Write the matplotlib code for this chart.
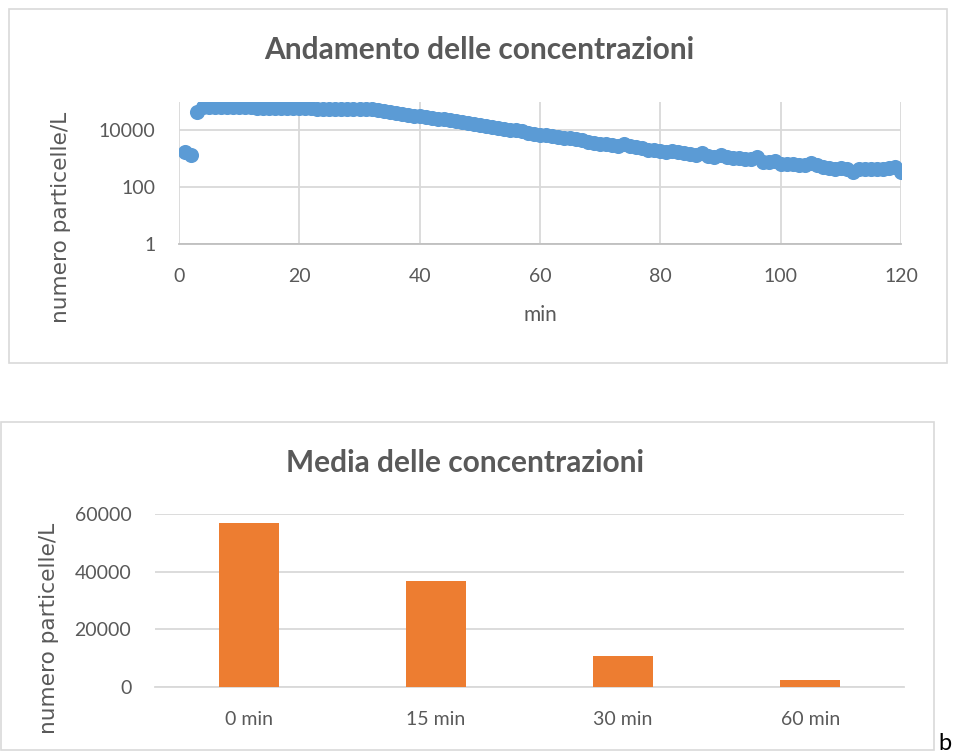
import matplotlib
matplotlib.use("Agg")
import matplotlib.pyplot as plt
from matplotlib.patches import Rectangle
import numpy as np

# ---------------- data ----------------
minutes = list(range(1, 121))
conc = [
    1800, 1400, 46000, 68000, 67000, 67000, 68000, 67000, 66000, 66000,
    65000, 65000, 64000, 64000, 63000, 63000, 63000, 62000, 61000, 61000,
    60000, 60000, 59000, 59000, 58000, 58000, 57000, 57000, 56000, 56000,
    55000, 55000, 54000, 50000, 46000, 42000, 38500, 35500, 33000, 31000,
    29000, 27500, 26000, 24500, 23000, 21500, 20000, 18500, 17000, 15500,
    14500, 13500, 12500, 11500, 10500, 10000, 9200, 8400, 7600, 7000,
    6800, 6300, 5900, 5500, 5200, 4900, 4600, 4000, 3700, 3400,
    3300, 3100, 2900, 3300, 2800, 2600, 2400, 2100, 2000, 1950,
    1800, 1900, 1750, 1550, 1450, 1350, 1600, 1250, 1200, 1400,
    1150, 1050, 1050, 1000, 950, 1200, 800, 750, 850, 650,
    640, 630, 620, 600, 720, 600, 500, 470, 450, 460,
    430, 330, 430, 440, 420, 430, 440, 460, 520, 330,
]
top_xticks = [0, 20, 40, 60, 80, 100, 120]
top_yticks = [1, 100, 10000]
top_ytick_labels = ["1", "100", "10000"]

bar_categories = ["0 min", "15 min", "30 min", "60 min"]
bar_values = [56800, 36600, 10900, 2500]
bar_yticks = [0, 20000, 40000, 60000]

top_title = "Andamento delle concentrazioni"
bottom_title = "Media delle concentrazioni"
ylabel = "numero particelle/L"
xlabel = "min"

# ---------------- style ----------------
W, H = 955, 753
BLUE = "#5B9BD5"
ORANGE = "#ED7D31"
TXT = "#595959"
GRID = "#D9D9D9"
AXIS = "#BFBFBF"
FONT = "Lato"

fig = plt.figure(figsize=(W / 100, H / 100), dpi=100)
fig.patch.set_facecolor("white")


def px_axes(x0, y0, x1, y1):
    return fig.add_axes([x0 / W, 1 - y1 / H, (x1 - x0) / W, (y1 - y0) / H])


def fig_text(x, y, s, width=None, **kw):
    t = fig.text(x / W, 1 - y / H, s, **kw)
    if width is not None:
        r = fig.canvas.get_renderer()
        for _ in range(2):
            w = t.get_window_extent(r).width
            t.set_fontsize(t.get_fontsize() * width / w)
    return t


# panel borders
fig.add_artist(Rectangle((9 / W, 1 - 363 / H), (947 - 9) / W, (363 - 9) / H,
                         transform=fig.transFigure, fill=False, ec=GRID, lw=1.2))
fig.add_artist(Rectangle((1 / W, 1 - 750 / H), (934 - 1) / W, (750 - 422) / H,
                         transform=fig.transFigure, fill=False, ec=GRID, lw=1.2))

# ---------------- top chart ----------------
ax1 = px_axes(179, 102, 901, 244)
ax1.scatter(minutes, conc, s=118, color=BLUE, zorder=3, linewidths=0)
ax1.set_yscale("log")
ax1.set_ylim(1, 1e5)
ax1.set_xlim(0, 120)
ax1.set_xticks(top_xticks)
ax1.set_xticklabels([str(v) for v in top_xticks])
ax1.set_yticks(top_yticks)
ax1.set_yticklabels(top_ytick_labels)
ax1.yaxis.set_minor_locator(matplotlib.ticker.NullLocator())
ax1.grid(True, color=GRID, lw=1.3, zorder=0)
for side in ["top", "right", "left"]:
    ax1.spines[side].set_visible(False)
ax1.spines["bottom"].set_color(AXIS)
ax1.spines["bottom"].set_linewidth(1.3)
ax1.tick_params(length=0, pad=17, labelsize=14, labelcolor=TXT)
for lab in ax1.get_xticklabels() + ax1.get_yticklabels():
    lab.set_fontfamily(FONT)
ax1.set_axisbelow(True)

# ---------------- bottom chart ----------------
ax2 = px_axes(155, 514, 904, 687)
xpos = np.arange(len(bar_categories))
ax2.bar(xpos, bar_values, width=0.32, color=ORANGE, zorder=3)
ax2.set_xlim(-0.5, len(bar_categories) - 0.5)
ax2.set_ylim(0, 60000)
ax2.set_yticks(bar_yticks)
ax2.set_yticklabels([str(v) for v in bar_yticks])
ax2.set_xticks(xpos)
ax2.set_xticklabels(bar_categories)
ax2.grid(True, axis="y", color=GRID, lw=1.3, zorder=0)
for side in ["top", "right", "left"]:
    ax2.spines[side].set_visible(False)
ax2.spines["bottom"].set_color(GRID)
ax2.spines["bottom"].set_linewidth(1.3)
ax2.tick_params(length=0, pad=17, labelsize=14, labelcolor=TXT)
for lab in ax2.get_xticklabels() + ax2.get_yticklabels():
    lab.set_fontfamily(FONT)
ax2.set_axisbelow(True)

# ---------------- texts ----------------
fig_text(479, 50, top_title, width=430, ha="center", va="center",
         fontfamily=FONT, fontweight="bold", color=TXT, fontsize=20)
fig_text(465, 463, bottom_title, width=358, ha="center", va="center",
         fontfamily=FONT, fontweight="bold", color=TXT, fontsize=20)
fig_text(540, 315, xlabel, ha="center", va="center",
         fontfamily=FONT, color=TXT, fontsize=15)

for cy, cx in [(217, 61), (628, 49)]:
    t = fig.text(cx / W, 1 - cy / H, ylabel, rotation=90, ha="center", va="center",
                 fontfamily="DejaVu Sans", color=TXT, fontsize=13)
    r = fig.canvas.get_renderer()
    for _ in range(2):
        h = t.get_window_extent(r).height
        t.set_fontsize(t.get_fontsize() * 211 / h)

fig.text(938 / W, 1 - 750 / H, "b", ha="left", va="baseline",
         fontfamily=FONT, color="black", fontsize=17)

fig.savefig("out.png", dpi=100, facecolor="white")
